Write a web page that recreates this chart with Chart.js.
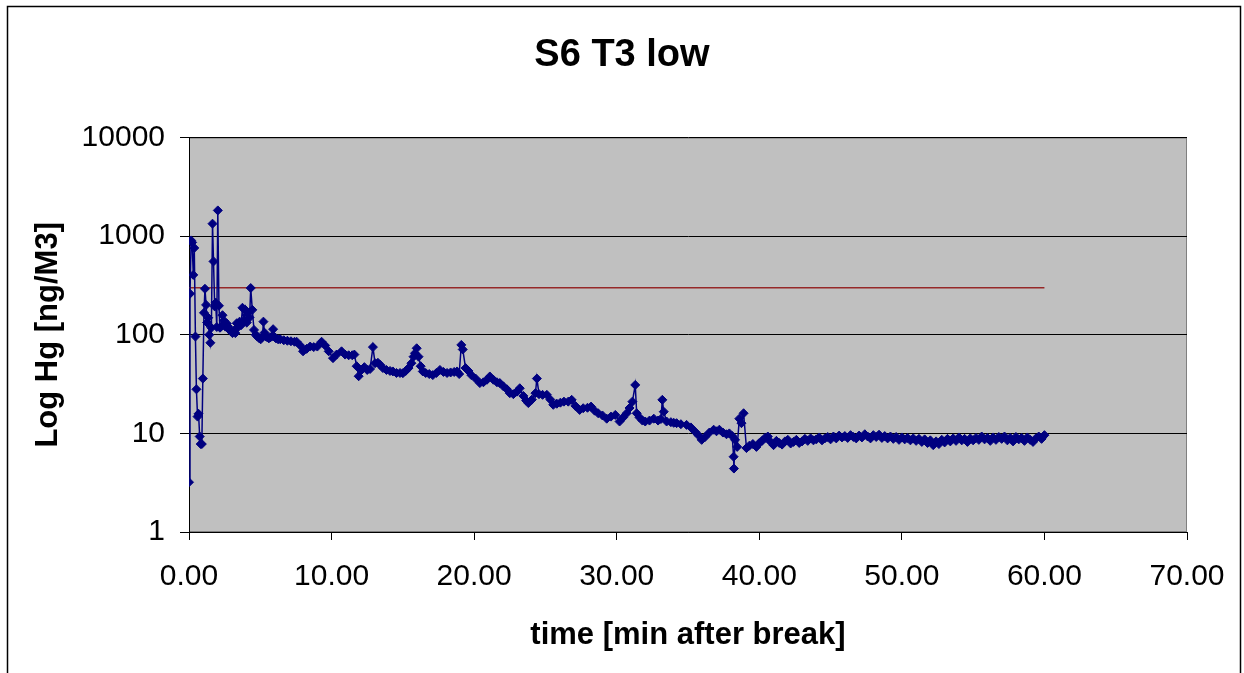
<!DOCTYPE html>
<html>
<head>
<meta charset="utf-8">
<title>S6 T3 low</title>
<script src="https://cdn.jsdelivr.net/npm/chart.js@4/dist/chart.umd.min.js"></script>
<style>
  html, body { margin: 0; padding: 0; background: #fff; overflow: hidden; }
  #wrap { position: relative; width: 1244px; height: 673px; }
</style>
</head>
<body>
<div id="wrap"><canvas id="hg-chart" width="1244" height="673"></canvas></div>
<script>
// time after break [min]
var timeMin = [
  0.00, 0.07, 0.15, 0.22, 0.30, 0.37, 0.45, 0.52, 0.60, 0.67, 0.75, 0.82, 0.90, 0.97,
  1.05, 1.12, 1.20, 1.27, 1.35, 1.42, 1.50, 1.57, 1.65, 1.72, 1.80, 1.87, 1.95,
  2.02, 2.10, 2.17, 2.25, 2.35, 2.45, 2.55, 2.65, 2.75, 2.85, 2.95, 3.05, 3.15, 3.25,
  3.35, 3.45, 3.55, 3.65, 3.75, 3.85, 3.95, 4.05, 4.15, 4.25, 4.33, 4.44, 4.56, 4.68,
  4.79, 4.90, 5.03, 5.15, 5.22, 5.30, 5.40, 5.50, 5.60, 5.70, 5.80, 5.90, 6.00, 6.10,
  6.25, 6.40, 6.65, 6.90, 7.15, 7.40, 7.55, 7.80, 8.00, 8.25, 8.50, 8.75, 9.00, 9.30,
  9.55, 9.80, 10.10, 10.35, 10.70, 10.95, 11.20, 11.45, 11.60, 11.76, 11.90, 12.10,
  12.30, 12.50, 12.70, 12.90, 13.05, 13.25, 13.40, 13.60, 13.85, 14.10, 14.30, 14.55,
  14.80, 15.00, 15.20, 15.40, 15.60, 15.75, 15.85, 15.97, 16.10, 16.25, 16.40, 16.60,
  16.85, 17.10, 17.35, 17.60, 17.85, 18.10, 18.35, 18.60, 18.80, 18.95, 19.10, 19.20,
  19.40, 19.60, 19.80, 20.10, 20.40, 20.65, 20.90, 21.10, 21.35, 21.60, 21.80, 22.05,
  22.30, 22.50, 22.75, 23.00, 23.20, 23.45, 23.65, 23.80, 24.05, 24.30, 24.40, 24.55,
  24.80, 25.10, 25.35, 25.55, 25.80, 26.05, 26.30, 26.60, 26.84, 27.10, 27.40, 27.65,
  27.95, 28.20, 28.45, 28.70, 29.00, 29.30, 29.60, 29.90, 30.20, 30.45, 30.70, 30.90,
  31.10, 31.30, 31.40, 31.60, 31.80, 32.00, 32.30, 32.60, 32.90, 33.10, 33.20, 33.30,
  33.50, 33.80, 34.00, 34.20, 34.50, 34.90, 35.20, 35.50, 35.75, 35.96, 36.20, 36.50,
  36.80, 37.00, 37.20, 37.45, 37.70, 37.90, 38.10, 38.20, 38.22, 38.30, 38.45, 38.60,
  38.75, 38.90, 39.10, 39.30, 39.55, 39.80,
  40.0, 40.2, 40.4, 40.6, 40.8, 41.0, 41.2, 41.4, 41.6, 41.8,
  42.0, 42.2, 42.4, 42.6, 42.8, 43.0, 43.2, 43.4, 43.6, 43.8,
  44.0, 44.2, 44.4, 44.6, 44.8, 45.0, 45.2, 45.4, 45.6, 45.8,
  46.0, 46.2, 46.4, 46.6, 46.8, 47.0, 47.2, 47.4, 47.6, 47.8,
  48.0, 48.2, 48.4, 48.6, 48.8, 49.0, 49.2, 49.4, 49.6, 49.8,
  50.0, 50.2, 50.4, 50.6, 50.8, 51.0, 51.2, 51.4, 51.6, 51.8,
  52.0, 52.2, 52.4, 52.6, 52.8, 53.0, 53.2, 53.4, 53.6, 53.8,
  54.0, 54.2, 54.4, 54.6, 54.8, 55.0, 55.2, 55.4, 55.6, 55.8,
  56.0, 56.2, 56.4, 56.6, 56.8, 57.0, 57.2, 57.4, 57.6, 57.8,
  58.0, 58.2, 58.4, 58.6, 58.8, 59.0, 59.2, 59.4, 59.6, 59.8,
  60.0
];

// Hg concentration [ng/m3]
var hgValues = [
  3.2, 261, 906, 865, 405, 760, 96, 28, 14.8, 15.8, 9.3, 7.8, 7.8, 36,
  167, 293, 201, 133, 149, 100, 83, 118, 1340, 555, 194, 211, 120,
  1826, 197, 118, 121, 158, 139, 121, 130, 121, 112, 108, 104, 110, 104,
  131, 120, 136, 125, 188, 140, 179, 133, 168, 150, 298, 179, 112, 100,
  96, 93, 90, 95, 136, 105, 96, 94, 92, 94, 96, 114, 95, 92,
  90, 90, 88, 87, 86, 85, 85, 78, 68, 72, 76, 75, 76, 85,
  78, 68, 58, 63, 68, 63, 62, 62, 63, 48, 38, 44,
  47, 44, 45, 75, 51.5, 52, 49.6, 46, 44, 43, 42.5, 41,
  41, 40.8, 43, 46, 51.5, 60, 65, 73, 60, 48, 42.5, 41,
  40, 39, 41, 44, 42, 41, 41.5, 42, 42.5, 40, 79, 71,
  46, 43, 39, 36, 32.4, 33, 35, 37.8, 35, 33, 32.4, 30,
  28, 25.6, 25, 26.5, 28.7, 24, 21.5, 20.3, 22, 25.6, 36, 25,
  24.6, 24.6, 22, 19.5, 20, 20.5, 21, 21, 21.9, 19, 17.3, 18,
  18.2, 18.7, 17, 16, 15.2, 14.1, 14.8, 15.4, 13.2, 14.5, 16, 18.1,
  21, 31, 16, 14.5, 13.5, 13.2, 13.5, 14.1, 13.5, 14, 21.9, 16.6,
  13.2, 13, 12.8, 12.7, 12.4, 12.2, 11.5, 10.4, 9.5, 8.6, 9.2, 10.2,
  10.9, 10.5, 10.9, 10.2, 9.8, 10, 9.4, 5.8, 4.4, 8.6, 7.3, 14.1,
  12.7, 16, 7.1, 7.5, 7.8, 7.3,
  8.0, 8.4, 9.0, 9.3, 8.2, 7.6, 8.4, 8.0, 7.7, 8.3,
  8.6, 7.9, 8.2, 8.6, 8.0, 8.3, 8.8, 8.4, 8.9, 8.5,
  8.7, 9.1, 8.5, 8.9, 9.2, 8.7, 9.3, 8.9, 9.5, 9.1,
  9.4, 9.0, 9.6, 9.2, 8.9, 9.5, 9.1, 9.8, 9.3, 8.9,
  9.6, 9.2, 9.7, 9.0, 9.4, 8.9, 9.3, 8.8, 9.2, 8.6,
  9.1, 8.7, 9.0, 8.5, 8.9, 8.4, 8.8, 8.2, 8.7, 8.0,
  8.5, 7.6, 8.3, 7.8, 8.6, 8.1, 8.8, 8.3, 8.9, 8.4,
  9.1, 8.5, 8.8, 8.2, 8.9, 8.5, 9.0, 8.6, 9.3, 8.7,
  9.0, 8.4, 9.1, 8.6, 9.2, 8.8, 9.3, 8.5, 9.0, 8.3,
  9.2, 8.7, 9.0, 8.4, 9.1, 8.6, 8.2, 8.9, 9.3, 8.8,
  9.6
];

// reference level line
var limitTime = [0, 60];
var limitValue = [300, 300];

var yTickValues = [1, 10, 100, 1000, 10000];
var xMin = 0, xMax = 70, xStep = 10;

var FONT = "'Liberation Sans', Arial, sans-serif";

var seriesPoints = [];
for (var i = 0; i < timeMin.length; i++) {
    seriesPoints.push({ x: timeMin[i], y: hgValues[i] });
}
var limitPoints = [];
for (var j = 0; j < limitTime.length; j++) {
    limitPoints.push({ x: limitTime[j], y: limitValue[j] });
}

// grey plot area, outer frame, title centred on the whole page
var plotBackground = {
    id: 'plotBackground',
    afterLayout: function (chart) {
        if (chart.titleBlock) {
            chart.titleBlock.left = 0;
            chart.titleBlock.right = chart.width;
            chart.titleBlock.width = chart.width;
        }
    },
    beforeDraw: function (chart) {
        var ctx = chart.ctx, a = chart.chartArea;
        ctx.save();
        ctx.fillStyle = '#C0C0C0';
        ctx.fillRect(a.left, a.top, a.right - a.left, a.bottom - a.top);
        ctx.strokeStyle = '#808080';
        ctx.lineWidth = 1;
        ctx.strokeRect(a.left + 0.5, a.top + 0.5, a.right - a.left - 1, a.bottom - a.top - 1);
        ctx.restore();
    },
    afterDraw: function (chart) {
        var ctx = chart.ctx;
        ctx.save();
        ctx.strokeStyle = '#000';
        ctx.lineWidth = 1.5;
        ctx.strokeRect(7.5, 6.5, 1233, 720);
        ctx.restore();
    }
};

var context = document.getElementById("hg-chart").getContext("2d");
var hgChart = new Chart(context, {
    type: 'scatter',
    data: {
        datasets: [{
            data: seriesPoints,
            showLine: true,
            borderColor: '#000080',
            backgroundColor: '#000080',
            borderWidth: 1.5,
            pointStyle: 'rectRot',
            pointRadius: 4.5,
            pointBorderWidth: 1,
            pointBorderColor: '#000080',
            pointBackgroundColor: '#000080'
        },
        {
            data: limitPoints,
            showLine: true,
            borderColor: '#962828',
            borderWidth: 1.5,
            pointRadius: 0
        }]
    },
    options: {
        responsive: false,
        animation: false,
        layout: { padding: { top: 10, left: 10, right: 57, bottom: 5 } },
        plugins: {
            legend: { display: false },
            tooltip: { enabled: false },
            title: {
                display: true,
                text: 'S6 T3 low',
                color: '#000',
                font: { family: FONT, size: 38, weight: 'bold', lineHeight: 1.2 },
                padding: { top: 23, bottom: 59 }
            }
        },
        scales: {
            x: {
                type: 'linear',
                min: xMin,
                max: xMax,
                afterFit: function (scale) { scale.height = 136; },
                ticks: {
                    stepSize: xStep,
                    autoSkip: false,
                    maxRotation: 0,
                    color: '#000',
                    padding: 19,
                    font: { family: FONT, size: 30 },
                    callback: function (v) { return Number(v).toFixed(2); }
                },
                grid: {
                    drawOnChartArea: false,
                    drawTicks: true,
                    tickLength: 8,
                    color: '#000'
                },
                border: { color: '#000', width: 1 },
                title: {
                    display: true,
                    text: 'time [min after break]',
                    color: '#000',
                    font: { family: FONT, size: 31, weight: 'bold', lineHeight: 1.2 },
                    padding: { top: 0, bottom: 14 }
                }
            },
            y: {
                type: 'logarithmic',
                min: 1,
                max: 10000,
                afterFit: function (scale) { scale.width = 179; },
                afterBuildTicks: function (scale) {
                    scale.ticks = yTickValues.map(function (v) { return { value: v }; });
                },
                ticks: {
                    color: '#000',
                    padding: 15,
                    font: { family: FONT, size: 30 },
                    callback: function (v) { return String(v); }
                },
                grid: {
                    color: '#000',
                    lineWidth: 1,
                    drawTicks: true,
                    tickLength: 9
                },
                border: { color: '#000', width: 1 },
                title: {
                    display: true,
                    text: 'Log Hg [ng/M3]',
                    color: '#000',
                    font: { family: FONT, size: 31, weight: 'bold', lineHeight: 1.2 },
                    padding: { top: 20, bottom: 0 }
                }
            }
        }
    },
    plugins: [plotBackground]
});
</script>
</body>
</html>
